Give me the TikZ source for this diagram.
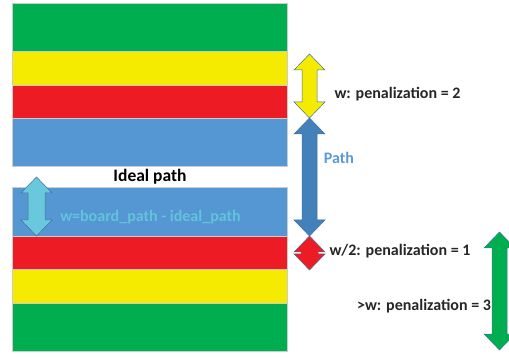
\documentclass[tikz,border=0pt]{standalone}
\usepackage{fontspec}
\setmainfont{Carlito}
\definecolor{bgreen}{HTML}{00AE4F}
\definecolor{byellow}{HTML}{F5EB00}
\definecolor{bred}{HTML}{ED1C24}
\definecolor{bblue}{HTML}{5597D2}
\definecolor{ablue}{HTML}{4381BA}
\definecolor{acyan}{HTML}{6AC8DC}
\definecolor{tcyan}{HTML}{62C3DA}
\definecolor{tblue}{HTML}{5B9BD5}
\definecolor{tdark}{HTML}{262626}
\definecolor{aline}{HTML}{41719C}
\newcommand\vdarrow[6]{% cx, top, bottom, fill, head half width, shaft half width
  \filldraw[fill=#4,draw=aline,line width=0.5pt,line join=miter]
    (#1,#2) -- ({#1+#5},{#2+16}) -- ({#1+#6},{#2+16}) -- ({#1+#6},{#3-16})
    -- ({#1+#5},{#3-16}) -- (#1,#3) -- ({#1-#5},{#3-16}) -- ({#1-#6},{#3-16})
    -- ({#1-#6},{#2+16}) -- ({#1-#5},{#2+16}) -- cycle;}
\tikzset{
  band/.style={draw=black!20,line width=0.4pt},
  lbl/.style={font=\bfseries\fontsize{16}{18}\selectfont,text=tdark,inner sep=0pt}
}
\begin{document}
\begin{tikzpicture}[x=1pt,y=-1pt]
\useasboundingbox (0,0) rectangle (509,358);
% bands
\fill[white] (12,166) rectangle (287,187);
\draw[band,fill=bgreen] (12,3) rectangle (287,51);
\draw[band,fill=byellow] (12,51) rectangle (287,85);
\draw[band,fill=bred] (12,85) rectangle (287,118);
\draw[band,fill=bblue] (12,118) rectangle (287,166);
\draw[band,fill=bblue] (12,187) rectangle (287,236);
\draw[band,fill=bred] (12,236) rectangle (287,269);
\draw[band,fill=byellow] (12,269) rectangle (287,303);
\draw[band,fill=bgreen] (12,303) rectangle (287,351);
% arrows
\vdarrow{309.5}{54}{118}{byellow}{15.5}{7.5}
\vdarrow{309.5}{118}{236}{ablue}{15.5}{7.5}
\vdarrow{309.5}{236}{270}{bred}{15.5}{8.5}
\vdarrow{499.5}{232}{350}{bgreen}{15.5}{7.5}
\vdarrow{36.5}{177}{236}{acyan}{15.5}{8.5}
% labels
\node[lbl] (l1) at (397.5,94) {w: penalization = 2};
\node[lbl,text=tblue] (l2) at (339,158) {Path};
\node[lbl,font=\bfseries\fontsize{17.5}{20}\selectfont,text=black] (l3) at (150,177) {Ideal path};
\node[lbl,text=tcyan] (l4) at (150.5,217) {w=board\_path - ideal\_path};
\node[lbl] (l5) at (400,251) {w/2: penalization = 1};
\node[lbl] (l6) at (424,306) {>w: penalization = 3};
\end{tikzpicture}
\end{document}
